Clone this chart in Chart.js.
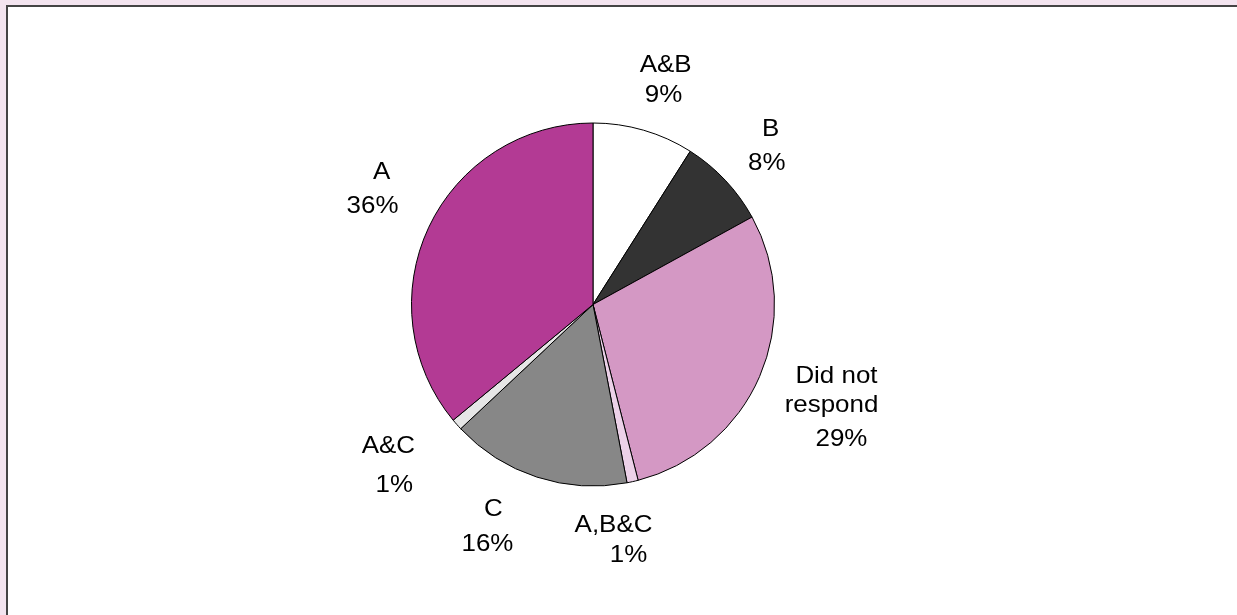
<!DOCTYPE html>
<html>
<head>
<meta charset="utf-8">
<script src="https://cdn.jsdelivr.net/npm/chart.js@4"></script>
<style>
  html, body { margin: 0; padding: 0; width: 1237px; height: 615px; overflow: hidden; background: #f3e4ef; }
  #frame { position: absolute; left: 6px; top: 5px; width: 1400px; height: 800px; background: #fff; border-left: 2px solid #444; border-top: 2px solid #444; }
  #pie { position: absolute; left: 0; top: 0; }
</style>
</head>
<body>
<div id="frame"></div>
<canvas id="pie" width="1237" height="615"></canvas>
<script>
// slices go clockwise from 12 o'clock
var groups = ["A&B", "B", "Did not respond", "A,B&C", "C", "A&C", "A"];
var shares = [9, 8, 29, 1, 16, 1, 36];
var labelText = [["A&B", "9%"], ["B", "8%"], ["Did not", "respond", "29%"], ["A,B&C", "1%"], ["C", "16%"], ["A&C", "1%"], ["A", "36%"]];
var colors = ["#ffffff", "#333333", "#d498c4", "#ecd1e8", "#878787", "#e6e6e6", "#b33a94"];

// per-line nudges [dx, baseline dy] from the point 50px outside each slice's middle
var labelNudge = [
  [[8, -10], [6, 20]],
  [[9, -10], [5, 24]],
  [[31, -13], [26, 16], [36, 50]],
  [[-30, 2], [-15, 32]],
  [[-28, -9], [-34, 26]],
  [[-31, -5], [-25, 34]],
  [[-2, -27], [-11, 7]]
];

var outsideLabels = {
  id: 'outsideLabels',
  afterDatasetsDraw: function(chart) {
    var ctx = chart.ctx;
    var arcs = chart.getDatasetMeta(0).data;
    ctx.save();
    ctx.font = '24px "Liberation Sans", Arial, sans-serif';
    ctx.fillStyle = '#000';
    ctx.textAlign = 'center';
    ctx.textBaseline = 'alphabetic';
    arcs.forEach(function(arc, i) {
      var p = arc.getProps(['x', 'y', 'startAngle', 'endAngle', 'outerRadius'], true);
      var mid = (p.startAngle + p.endAngle) / 2;
      var ax = p.x + (p.outerRadius + 50) * Math.cos(mid);
      var ay = p.y + (p.outerRadius + 50) * Math.sin(mid);
      labelText[i].forEach(function(line, j) {
        // the labels run a little wide, stretch them slightly
        ctx.save();
        ctx.translate(ax + labelNudge[i][j][0], ay + labelNudge[i][j][1]);
        ctx.scale(1.08, 1);
        ctx.fillText(line, 0, 0);
        ctx.restore();
      });
    });
    ctx.restore();
  }
};

new Chart(document.getElementById('pie'), {
  type: 'pie',
  data: {
    labels: groups,
    datasets: [{
      data: shares,
      backgroundColor: colors,
      borderColor: '#000000',
      borderWidth: 1
    }]
  },
  options: {
    responsive: false,
    animation: false,
    events: [],
    layout: { padding: { left: 411, right: 462, top: 122, bottom: 128 } },
    plugins: {
      legend: { display: false },
      tooltip: { enabled: false }
    }
  },
  plugins: [outsideLabels]
});
</script>
</body>
</html>
